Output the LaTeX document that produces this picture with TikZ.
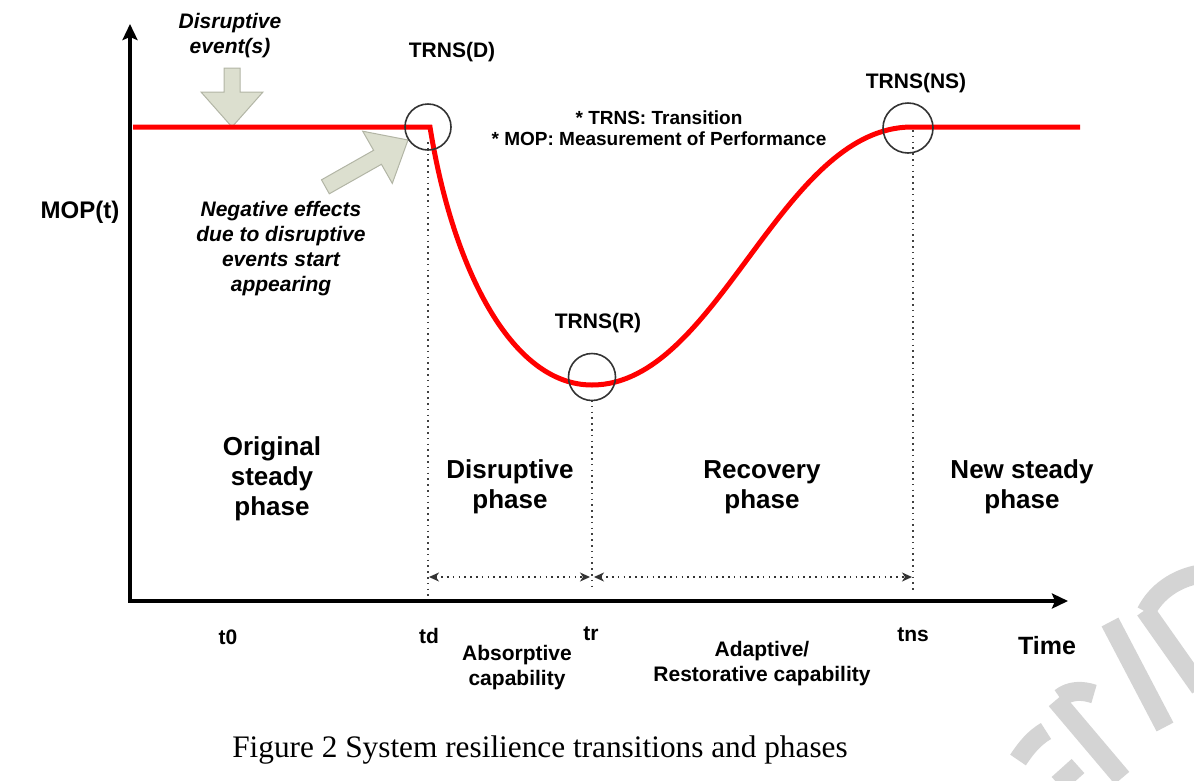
\documentclass[tikz,border=0pt]{standalone}
\usepackage{fontspec}
\setmainfont{Liberation Sans}
\newfontfamily\capfont{Liberation Serif}
\usetikzlibrary{arrows.meta}
\definecolor{arrowfill}{HTML}{DCDFCF}
\definecolor{arrowedge}{HTML}{B2B5A5}
\definecolor{curvered}{HTML}{FF0000}
\definecolor{wmgray}{HTML}{D4D4D4}
\tikzset{
  lblS/.style={font=\fontsize{21}{25}\selectfont\bfseries, align=center, inner sep=0pt},
  lblT/.style={font=\fontsize{19}{21}\selectfont\bfseries, align=center, inner sep=0pt},
  lblL/.style={font=\fontsize{26}{30}\selectfont\bfseries, align=center, inner sep=0pt},
  lblI/.style={font=\fontsize{21}{25}\selectfont\bfseries\itshape, align=center, inner sep=0pt},
  axisline/.style={line width=3.6pt, -{Stealth[length=16pt,width=15pt,inset=3pt]}},
  redline/.style={curvered, line width=5pt, line join=miter},
  ring/.style={circle, draw=black!80, line width=1.6pt, inner sep=0pt},
  dotline/.style={line width=2pt, dash pattern=on 1.6pt off 4.2pt, black!75},
  dotarrow/.style={line width=1.8pt, dash pattern=on 1.6pt off 4.2pt, black!80,
    {Stealth[length=10pt,width=9pt,inset=3pt]}-{Stealth[length=10pt,width=9pt,inset=3pt]}},
  blockarrow/.style={fill=arrowfill, draw=arrowedge, line width=1pt, line join=miter},
  wm/.style={wmgray, line width=19pt},
}
\begin{document}
\begin{tikzpicture}[x=1pt,y=-1pt]
\useasboundingbox (0,0) rectangle (1194,780);
% watermark (partly visible letters)
\begin{scope}
\clip (0,0) rectangle (1194,780);
\draw[wm] (1110,622) -- (1165,727);
\draw[wm] (1056,700) -- (1122,778);
\draw[wm] (1060,698) .. controls (1070,690) and (1082,690) .. (1094,694);
\draw[wm] (1145,610) -- (1200,688);
\draw[wm] (1146,612) .. controls (1156,592) and (1176,578) .. (1200,574);
\draw[wm] (1018,760) .. controls (1026,748) and (1034,738) .. (1046,731);
\draw[wm] (1058,784) -- (1078,766);
\end{scope}
% coordinates
\coordinate (O) at (130,601);
\coordinate (ytip) at (130,24);
\coordinate (xtip) at (1068,601);
\coordinate (start) at (133,127);
\coordinate (tdc) at (430,127);
\coordinate (trc) at (592,385);
\coordinate (tnsc) at (912,127);
\coordinate (endc) at (1080,127);
% dotted verticals
\coordinate (tdtop) at (428,142);
\coordinate (tdbot) at (428,600);
\coordinate (trtop) at (592,400);
\coordinate (trbot) at (592,590);
\coordinate (tnstop) at (913,130);
\coordinate (tnsbot) at (913,590);
\draw[dotline] (tdtop) -- (tdbot);
\draw[dotline] (trtop) -- (trbot);
\draw[dotline] (tnstop) -- (tnsbot);
% dotted double arrows
\coordinate (a1l) at (429,577);
\coordinate (a1r) at (590,577);
\coordinate (a2l) at (594,577);
\coordinate (a2r) at (912,577);
\draw[dotarrow] (a1l) -- (a1r);
\draw[dotarrow] (a2l) -- (a2r);
% axes
\draw[axisline] (O) -- (ytip);
\draw[axisline] ([xshift=-1.8pt]O) -- (xtip);
% block arrows
\draw[blockarrow] (224,68) -- (240,68) -- (240,92) -- (263,92) -- (232,127) -- (201,92) -- (224,92) -- cycle;
\draw[blockarrow] (329.3,193.8) -- (321.5,179.8) -- (373.6,150.3) -- (362.7,131.2) -- (408,140) -- (392.3,183.4) -- (381.4,164.3) -- cycle;
% red curve
\draw[redline] (start) -- (tdc) .. controls (452,265) and (510,385) .. (trc)
  .. controls (718,385) and (780,127) .. (tnsc) -- (endc);
% circles
\node[ring, minimum size=46pt] (trnsD) at (428,127) {};
\node[ring, minimum size=47pt] (trnsR) at (592,377) {};
\node[ring, minimum size=50pt] (trnsNS) at (908,128) {};
% labels
\node[lblS] (lD) at (452,52) {TRNS(D)};
\node[lblS] (lR) at (598,323) {TRNS(R)};
\node[lblS] (lNS) at (916,83) {TRNS(NS)};
\node[lblT] (legend) at (659,128) {* TRNS: Transition\\* MOP: Measurement of Performance};
\node[lblI] (devent) at (230,36) {Disruptive\\event(s)};
\node[lblI] (neg) at (281,249) {Negative effects\\due to disruptive\\events start\\appearing};
\node[font=\fontsize{24}{28}\selectfont\bfseries, inner sep=0pt] (mop) at (80,212) {MOP(t)};
\node[lblL] (ph1) at (272,479) {Original\\steady\\phase};
\node[lblL] (ph2) at (510,487) {Disruptive\\phase};
\node[lblL] (ph3) at (762,487) {Recovery\\phase};
\node[lblL] (ph4) at (1022,487) {New steady\\phase};
\node[lblS] (t0) at (228,637) {t0};
\node[lblS] (td) at (429,636) {td};
\node[lblS] (tr) at (591,634) {tr};
\node[lblS] (tns) at (913,635) {tns};
\node[font=\fontsize{25}{30}\selectfont\bfseries, inner sep=0pt] (time) at (1047,646) {Time};
\node[lblS] (absorb) at (517,668) {Absorptive\\capability};
\node[lblS] (adapt) at (762,664) {Adaptive/\\Restorative capability};
\node[font=\fontsize{31.3}{36}\selectfont\capfont, inner sep=0pt] (caption) at (540,750) {Figure 2 System resilience transitions and phases};
\end{tikzpicture}
\end{document}
